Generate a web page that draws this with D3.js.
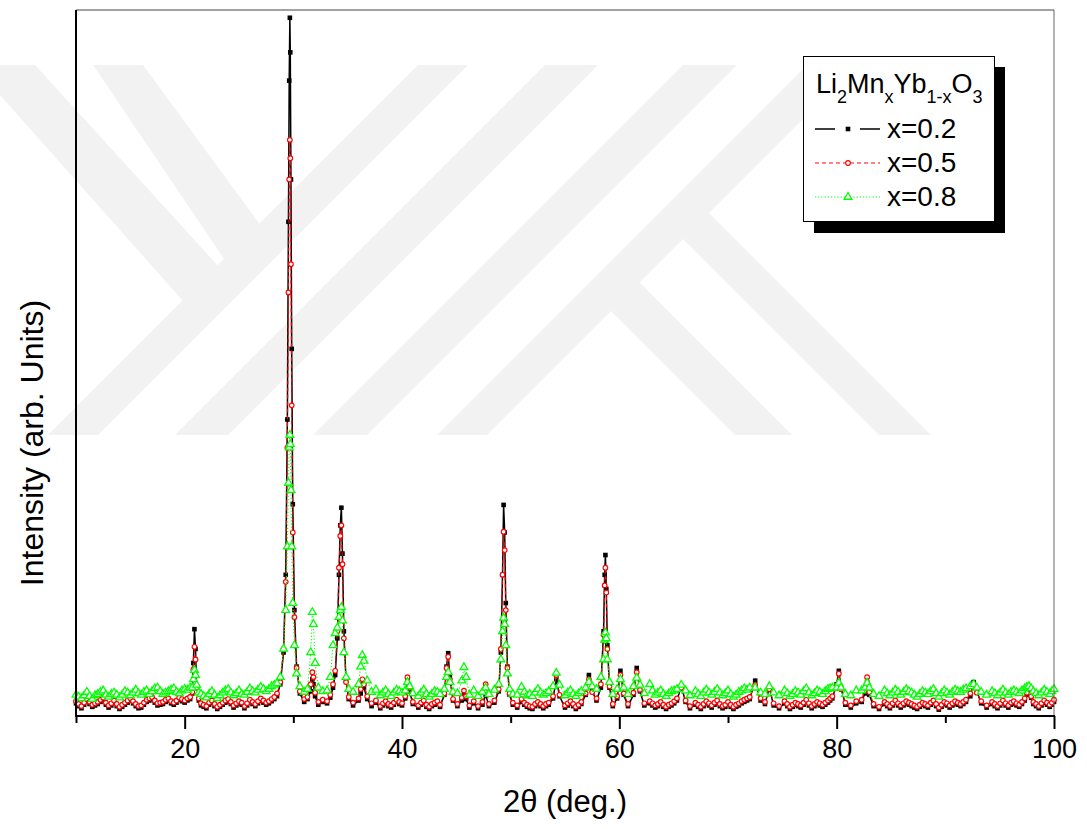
<!DOCTYPE html>
<html>
<head>
<meta charset="utf-8">
<script src="https://cdn.jsdelivr.net/npm/d3@7"></script>
<style>
  html, body { margin: 0; padding: 0; background: #fff; }
  svg { display: block; font-family: "Liberation Sans", Arial, sans-serif; }
</style>
</head>
<body>
<svg id="chart" width="1087" height="829"></svg>
<script>
// ---------------- DATA ----------------
const seriesNames = ["x=0.2", "x=0.5", "x=0.8"];
const xTicksMajor = [20, 40, 60, 80, 100];
const xTicksMinor = [10, 30, 50, 70, 90];

// 2-theta positions (deg.)
const twoTheta = [
  10,10.25,10.5,10.75,11,11.25,11.5,11.75,12,12.25,12.5,12.75,13,13.25,13.5,13.75,14,14.25,14.5,14.75,15,15.25,15.5,15.75,16,16.25,16.5,16.75,17,17.25,17.5,17.75,18,18.25,18.5,18.75,19,19.25,19.5,19.75,20,20.25,20.5,
  20.7,20.8,20.9,21.0,21.1,21.3,
  21.5,21.75,22,22.25,22.5,22.75,23,23.25,23.5,23.75,24,24.25,24.5,24.75,25,25.25,25.5,25.75,26,26.25,26.5,26.75,27,27.25,27.5,27.75,28,28.25,28.5,
  28.8,29.1,29.3,29.45,29.55,29.62,29.68,29.72,29.78,29.85,29.95,30.1,30.3,30.6,31.0,
  31.3,31.6,31.75,31.85,32.0,32.3,32.7,
  33.1,33.4,33.65,33.85,34.05,34.2,34.32,34.42,34.52,34.65,34.85,35.1,35.5,
  36.0,36.2,36.35,36.5,36.8,37.2,37.6,
  38.0,38.25,38.5,38.75,39.0,39.25,39.5,39.75,40.0,
  40.3,40.5,40.7,41.0,
  41.5,41.75,42,42.25,42.5,42.75,43,43.25,43.5,
  43.9,44.1,44.25,44.4,44.7,
  45.1,45.5,45.7,45.9,46.2,46.6,
  47.0,47.4,47.7,48.0,48.5,
  48.9,49.1,49.25,49.35,49.45,49.55,49.7,49.9,50.2,
  50.6,51.0,51.25,51.5,51.75,52.0,52.25,52.5,52.75,53.0,53.25,53.5,
  53.9,54.2,54.5,
  55.0,55.25,55.5,55.75,56.0,56.25,56.5,
  56.9,57.2,57.5,57.9,58.3,
  58.55,58.65,58.72,58.8,58.9,59.1,59.4,
  59.8,60.1,60.4,60.8,61.3,61.6,61.9,62.3,
  62.8,63.05,63.3,63.55,63.8,64.05,64.3,64.55,64.8,65.05,65.3,65.7,66.1,66.5,
  67,67.25,67.5,67.75,68,68.25,68.5,68.75,69,69.25,69.5,69.75,70,70.25,70.5,70.75,71,71.25,71.5,71.75,72,
  72.5,73.0,73.4,73.8,74.2,74.7,
  75.2,75.45,75.7,75.95,76.2,76.45,76.7,76.95,77.2,77.45,77.7,77.95,78.2,78.45,78.7,78.95,79.2,79.4,79.6,
  80.0,80.2,80.4,80.8,
  81.3,81.8,82.3,82.6,82.8,83.0,83.4,83.9,
  84.4,84.65,84.9,85.15,85.4,85.65,85.9,86.15,86.4,86.65,86.9,87.15,87.4,87.65,87.9,88.15,88.4,88.65,88.9,89.15,89.4,89.65,89.9,90.15,90.4,90.65,90.9,91.15,91.4,91.65,91.9,92.3,
  92.6,92.9,93.3,93.8,
  94.3,94.55,94.8,95.05,95.3,95.55,95.8,96.05,96.3,96.55,96.8,97.05,97.3,97.5,97.7,97.9,98.1,98.35,98.6,98.85,99.1,99.35,99.6,99.8,100
];

// Intensity (arb. units) for x = 0.2
const intensity02 = [
  18,14,11,16,21,17,13,15,17,20,23,16,12,15,19,14,10,13,16,19,22,18,14,11,12,16,20,22,24,19,15,16,17,20,22,18,16,19,23,21,19,22,24,
  32,75,123,95,42,22,
  15,13,11,16,19,14,10,13,16,19,21,17,12,15,18,16,11,15,20,17,14,18,22,19,16,18,21,24,28,
  45,90,200,420,700,900,989,940,760,520,300,150,70,32,20,
  24,35,52,45,28,16,20,
  18,26,40,58,110,200,270,295,230,120,50,24,15,
  22,32,45,40,24,14,19,
  11,15,18,14,12,16,20,17,15,
  25,50,35,17,
  12,16,19,13,10,14,16,18,13,
  30,70,89,55,22,
  14,22,30,24,12,18,
  11,16,30,14,19,
  35,90,200,299,260,160,70,30,16,
  12,20,16,13,11,10,14,17,14,11,14,16,
  25,52,28,
  12,15,18,14,10,13,17,
  30,58,35,22,40,
  120,200,228,180,100,40,14,
  25,64,30,14,30,68,35,15,
  18,15,12,14,17,13,10,13,15,18,22,42,20,11,
  16,13,10,14,18,15,12,16,19,14,11,13,17,13,10,13,15,18,20,22,24,
  50,22,17,40,15,11,
  18,14,10,13,16,14,12,16,20,15,11,14,17,15,13,16,19,22,25,
  45,64,40,16,
  12,18,20,32,48,30,14,10,
  17,14,11,15,19,15,12,15,18,16,14,12,10,13,16,14,12,16,19,14,9,13,17,15,12,15,18,16,14,17,20,28,
  48,35,18,12,
  17,14,11,15,19,15,12,16,18,15,13,17,22,30,38,26,17,14,11,15,19,16,13,16,20
];

// Intensity (arb. units) for x = 0.5
const intensity05 = [
  21,17,14,19,24,20,16,18,20,23,26,19,15,18,22,17,13,16,19,22,25,21,17,14,15,19,23,25,27,22,18,19,20,23,25,21,19,22,26,24,22,25,27,
  34,66,98,80,40,25,
  18,16,14,19,22,17,13,16,19,22,24,20,15,18,21,19,14,18,23,20,17,21,25,22,19,21,24,27,32,
  48,95,190,380,600,760,816,790,640,440,260,140,68,35,24,
  27,45,62,55,33,20,23,
  21,30,45,64,120,210,255,270,215,110,48,27,19,
  25,38,52,45,28,18,22,
  14,18,21,17,15,19,23,20,18,
  28,55,40,20,
  15,19,22,16,13,17,19,21,16,
  32,68,84,52,24,
  17,26,36,28,15,21,
  14,20,45,17,22,
  38,95,200,261,235,150,68,32,19,
  15,24,19,16,14,13,17,20,17,14,17,19,
  28,58,30,
  15,18,21,17,13,16,20,
  32,52,34,25,45,
  115,185,210,175,95,42,17,
  28,58,32,17,33,62,37,18,
  21,18,15,17,20,16,13,16,18,21,25,40,22,14,
  19,16,13,17,21,18,15,19,22,17,14,16,20,16,13,16,18,21,23,25,27,
  44,25,20,38,18,14,
  21,17,13,16,19,17,15,19,23,18,14,17,20,18,16,19,22,25,28,
  42,60,38,19,
  15,21,23,36,55,34,17,13,
  20,17,14,18,22,18,15,18,21,19,17,15,13,16,19,17,15,19,22,17,12,16,20,18,15,18,21,19,17,20,23,32,
  44,33,21,15,
  20,17,14,18,22,18,15,19,21,18,16,20,25,33,40,28,20,17,14,18,22,19,16,19,23
];

// Intensity (arb. units) for x = 0.8
const intensity08 = [
  30,27,25,29,34,28,24,29,31,34,36,30,27,31,33,30,26,30,35,33,29,33,37,32,30,34,36,31,35,39,40,35,31,33,35,37,39,34,32,36,38,37,40,
  40,52,65,58,44,33,
  31,28,26,31,35,30,25,29,33,36,38,33,29,32,36,31,30,34,39,35,33,37,41,38,35,38,42,44,46,
  55,95,150,240,330,380,398,385,320,240,160,100,60,42,34,
  38,90,147,130,75,40,35,
  36,55,100,117,125,140,150,154,135,90,55,38,34,
  45,70,86,78,50,34,37,
  29,33,36,31,28,33,37,35,33,
  36,48,42,32,
  28,33,37,31,27,31,35,34,31,
  38,55,62,48,34,
  32,50,69,55,30,36,
  28,34,40,31,37,
  45,80,120,139,130,100,60,38,31,
  30,41,34,29,31,28,33,38,33,30,32,35,
  42,61,44,
  29,33,36,31,28,32,35,
  40,48,42,38,55,
  80,108,118,110,80,48,31,
  38,52,40,31,42,54,44,32,
  45,36,30,33,36,31,28,32,35,36,38,44,36,29,
  35,31,28,33,37,33,30,34,38,33,29,32,36,31,27,30,34,36,39,37,40,
  40,33,31,42,33,29,
  36,32,28,31,35,33,30,35,39,33,29,32,36,34,31,35,38,39,40,
  40,47,40,31,
  29,36,36,40,47,40,31,28,
  36,32,29,33,37,34,30,34,38,35,33,30,27,31,35,33,31,35,38,32,27,32,36,33,30,34,37,35,34,37,39,42,
  45,40,34,30,
  35,32,29,33,37,33,30,34,36,34,32,36,39,41,42,39,35,32,29,33,37,34,31,35,38
];

// ---------------- CHART ----------------
const svg = d3.select("#chart");
const plot = { left: 76, right: 1054, top: 10, bottom: 716 };

const x = d3.scaleLinear().domain([10, 100]).range([plot.left, plot.right]);
const y = d3.scaleLinear().domain([0, 1000]).range([plot.bottom, plot.top]);

// faint background watermark (decorative)
const wm = svg.append("g").attr("fill", "#f2f2f2");
const wmShapes = [
  [[418,65],[468,65],[98,435],[48,435]],
  [[545,65],[598,65],[228,435],[175,435]],
  [[683,65],[737,65],[367,435],[313,435]],
  [[807,65],[857,65],[487,435],[437,435]],
  [[0,65],[35,65],[240,290],[200,320],[0,95]],
  [[93,65],[143,65],[270,238],[235,275]],
  [[700,204],[931,435],[879,435],[670,226]],
  [[627,270],[792,435],[735,435],[600,300]]
];
wm.selectAll("polygon").data(wmShapes).join("polygon")
  .attr("points", d => d.map(p => p.join(",")).join(" "));

// series definitions
const series = [
  { name: seriesNames[0], values: intensity02, color: "#000000", dash: null, width: 1.5, marker: "square" },
  { name: seriesNames[1], values: intensity05, color: "#ff0000", dash: "4,3", width: 1.1, marker: "circle" },
  { name: seriesNames[2], values: intensity08, color: "#00ff00", dash: "1.2,2", width: 1.1, marker: "triangle" }
];

const line = d3.line().x(d => x(d[0])).y(d => y(d[1]));
const triSym = d3.symbol().type(d3.symbolTriangle).size(26);

function drawMarker(g, type, color) {
  if (type === "square") {
    g.append("rect").attr("x", -2.3).attr("y", -2.3).attr("width", 4.6).attr("height", 4.6)
      .attr("fill", color);
  } else if (type === "circle") {
    g.append("circle").attr("r", 2.3).attr("fill", "#fff").attr("stroke", color).attr("stroke-width", 1.2);
  } else {
    g.append("path").attr("d", triSym()).attr("fill", "#fff").attr("stroke", color).attr("stroke-width", 1.3);
  }
}

const dataG = svg.append("g");
series.forEach(s => {
  const n = Math.min(twoTheta.length, s.values.length);
  if (twoTheta.length !== s.values.length) {
    svg.append("text").attr("x", 300).attr("y", 300).attr("fill", "red")
      .text(`length mismatch ${s.name}: ${twoTheta.length} vs ${s.values.length}`);
  }
  const pts = d3.range(n).map(i => [twoTheta[i], s.values[i]]);
  const g = dataG.append("g");
  g.append("path").datum(pts)
    .attr("d", line)
    .attr("fill", "none")
    .attr("stroke", s.color)
    .attr("stroke-width", s.width)
    .attr("stroke-dasharray", s.dash);
  g.selectAll("g.m").data(pts).join("g")
    .attr("class", "m")
    .attr("transform", d => `translate(${x(d[0])},${y(d[1])})`)
    .each(function () { drawMarker(d3.select(this), s.marker, s.color); });
});

// frame: thin top and right, thick left and bottom
svg.append("line").attr("x1", plot.left).attr("x2", plot.right).attr("y1", plot.top).attr("y2", plot.top)
  .attr("stroke", "#444").attr("stroke-width", 1);
svg.append("line").attr("x1", plot.right).attr("x2", plot.right).attr("y1", plot.top).attr("y2", plot.bottom)
  .attr("stroke", "#666").attr("stroke-width", 1);
svg.append("line").attr("x1", plot.left).attr("x2", plot.left).attr("y1", plot.top).attr("y2", plot.bottom + 1)
  .attr("stroke", "#000").attr("stroke-width", 2);

// x axis (major + minor)
const xAxisMajor = d3.axisBottom(x).tickValues(xTicksMajor).tickSize(13).tickPadding(10)
  .tickFormat(d3.format("d"));
const xAxisMinor = d3.axisBottom(x).tickValues(xTicksMinor).tickSize(7).tickFormat("");

const gMinor = svg.append("g").attr("transform", `translate(0,${plot.bottom})`).call(xAxisMinor);
gMinor.select(".domain").remove();
gMinor.selectAll(".tick line").attr("stroke", "#000").attr("stroke-width", 2);

const gMajor = svg.append("g").attr("transform", `translate(0,${plot.bottom})`).call(xAxisMajor);
gMajor.select(".domain").attr("stroke", "#000").attr("stroke-width", 2)
  .attr("d", `M${plot.left - 1},0H${plot.right + 1}`);
gMajor.selectAll(".tick line").attr("stroke", "#000").attr("stroke-width", 2);
gMajor.selectAll(".tick text")
  .attr("font-family", "'Liberation Sans', Arial, sans-serif")
  .attr("font-size", 27).attr("fill", "#000");

// axis titles
svg.append("text")
  .attr("x", (plot.left + plot.right) / 2).attr("y", 812)
  .attr("text-anchor", "middle").attr("font-size", 31).attr("fill", "#000")
  .text("2θ (deg.)");

svg.append("text")
  .attr("transform", `translate(43,${443}) rotate(-90)`)
  .attr("text-anchor", "middle").attr("font-size", 32).attr("fill", "#000")
  .text("Intensity (arb. Units)");

// legend
const lg = svg.append("g");
lg.append("rect").attr("x", 814).attr("y", 67).attr("width", 191).attr("height", 166).attr("fill", "#000");
lg.append("rect").attr("x", 803.5).attr("y", 56.5).attr("width", 191).attr("height", 165)
  .attr("fill", "#fff").attr("stroke", "#000").attr("stroke-width", 1);

const title = lg.append("text").attr("x", 816).attr("y", 93).attr("font-size", 27).attr("fill", "#000");
const parts = [["Li", 0], ["2", 1], ["Mn", 0], ["x", 1], ["Yb", 0], ["1-x", 1], ["O", 0], ["3", 1]];
let prevSub = 0;
parts.forEach(([t, sub]) => {
  const ts = title.append("tspan").text(t);
  ts.attr("dy", sub === prevSub ? 0 : (sub ? 10 : -10));
  if (sub) ts.attr("font-size", 18);
  prevSub = sub;
});

const legendY = [129, 163, 197];
series.forEach((s, i) => {
  const ly = legendY[i];
  const g = lg.append("g");
  g.append("line").attr("x1", 815).attr("x2", 880).attr("y1", ly).attr("y2", ly)
    .attr("stroke", s.color).attr("stroke-width", s.width)
    .attr("stroke-dasharray", s.marker === "square" ? "20,25,20" : s.dash);
  const m = g.append("g").attr("transform", `translate(848,${ly})`);
  drawMarker(m, s.marker, s.color);
  g.append("text").attr("x", 887).attr("y", ly + 9).attr("font-size", 28).attr("fill", "#000").text(s.name);
});
</script>
</body>
</html>
